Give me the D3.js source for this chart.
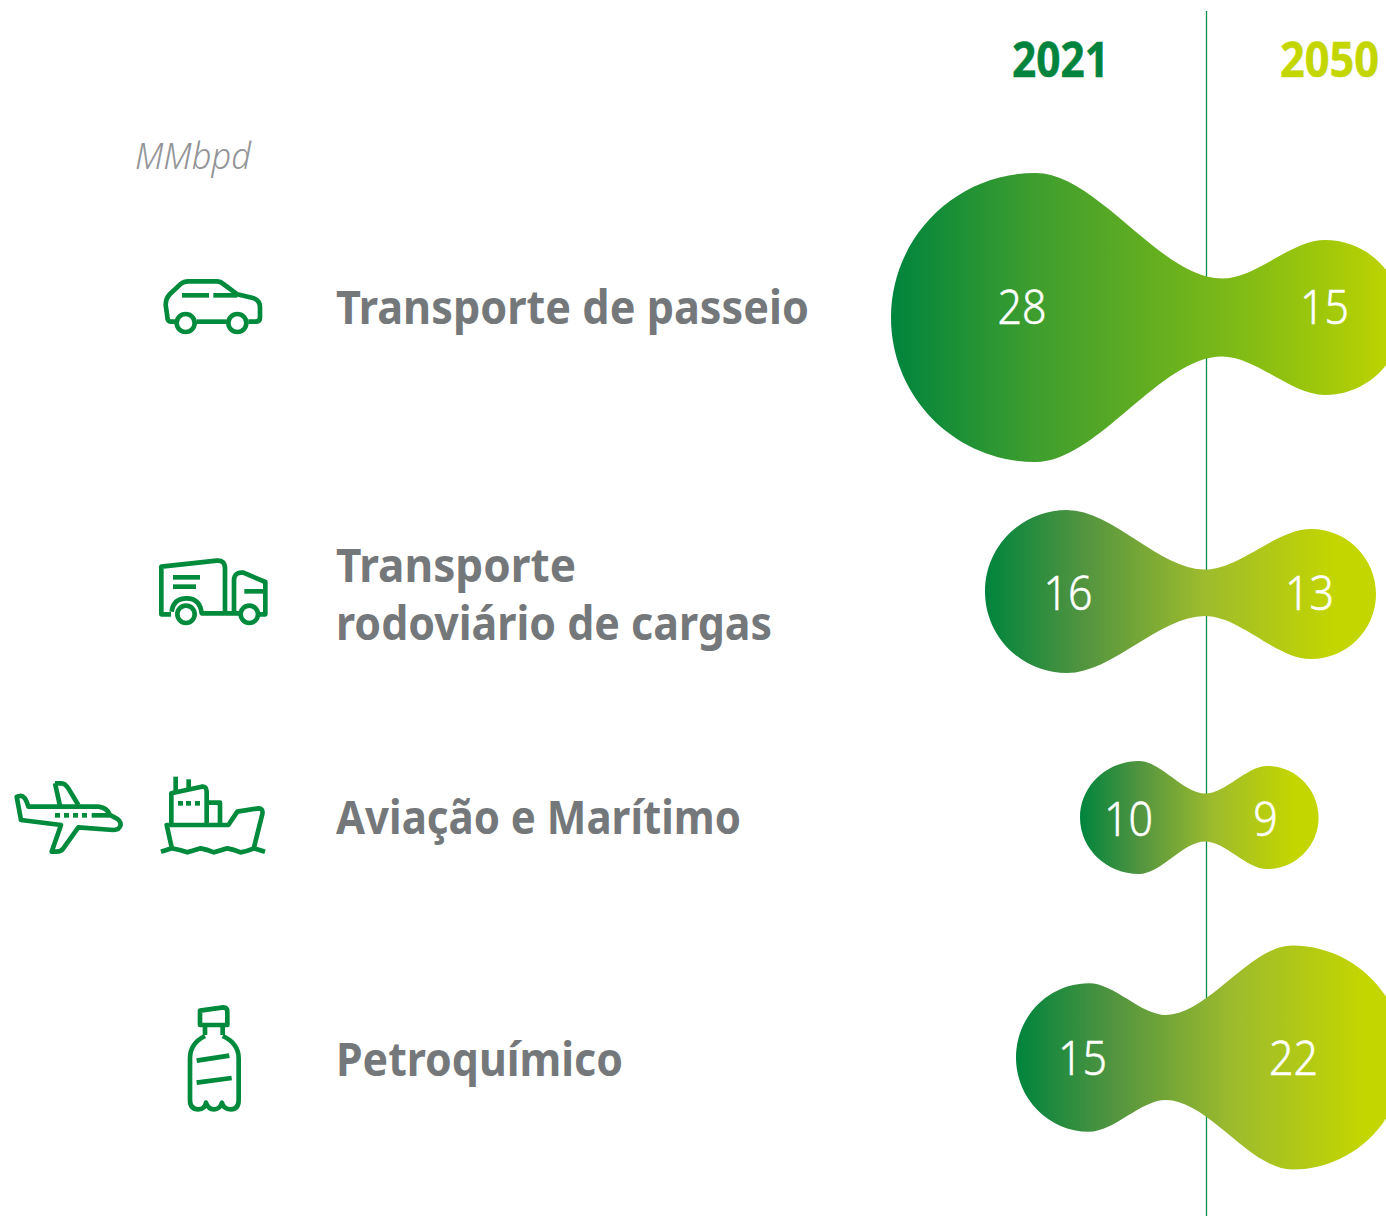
<!DOCTYPE html>
<html><head><meta charset="utf-8">
<script src="https://cdn.jsdelivr.net/npm/d3@7"></script>
<style>html,body{margin:0;padding:0;background:#fff;overflow:hidden}</style>
</head><body>
<div id="chart"></div>
<script>
// ---- data ----
const years = ["2021", "2050"];
const unitLabel = "MMbpd";
const categories = [["Transporte de passeio"], ["Transporte", "rodoviário de cargas"], ["Aviação e Marítimo"], ["Petroquímico"]];
const values2021 = [28, 16, 10, 15];
const values2050 = [15, 13, 9, 22];
// drawn lobe and waist sizes, in MMbpd
const size2021 = [28, 15.8, 10.95, 14.4];
const size2050 = [15, 12.6, 10, 21.7];
const sizeWaist = [7.55, 4.5, 4.65, 8.25];

// ---- layout ----
const W = 1386, H = 1216;
const rowY = [317.5, 591.5, 817.5, 1057.5];
const rowY2050 = [317.5, 594, 817.5, 1057.5];
const lobeX2021 = [1035.5, 1067, 1139, 1089];
const lobeX2050 = [1325, 1311, 1267, 1292];
const waistX = [1222, 1205, 1205, 1166];
const edgeX2021 = [891, 985, 1080, 1016];
const gradEnd = [1395, 1376, 1318, 1404];
const labelX2021 = [1022, 1068, 1128.5, 1082.5];
const labelX2050 = [1324.5, 1309.5, 1265.5, 1293.5];
const labelY = [324, 610, 835.5, 1074.5];
const catBaselines = [[324], [582, 640], [834], [1076]];
const catWidths = [[473], [240, 436], [405], [287]];
const GREEN = "#00843d", LIME = "#c4d600", GREY = "#75787b", ICON = "#008a3c";
const FONT = "'Noto Sans', 'Open Sans', sans-serif";

const r = d3.scaleLinear().domain([0, 28]).range([0, 144.5]);
const svg = d3.select("#chart").append("svg").attr("width", W).attr("height", H).attr("viewBox", `0 0 ${W} ${H}`).style("display", "block");
const defs = svg.append("defs");

const stopsStrong = [[0, "#00843d"], [.29, "#3f9e2e"], [.66, "#7ab818"], [.86, "#a0c80a"], [1, "#c0d400"]];
const stopsSoft = [[0, "#00843d"], [.25, "#529440"], [.56, "#9dbb2d"], [.9, LIME], [1, LIME]];
categories.forEach((c, i) => {
  const g = defs.append("linearGradient").attr("id", "grad" + i).attr("gradientUnits", "userSpaceOnUse")
    .attr("x1", edgeX2021[i]).attr("x2", gradEnd[i]).attr("y1", 0).attr("y2", 0);
  (i === 0 ? stopsStrong : stopsSoft).forEach(s => g.append("stop").attr("offset", s[0]).attr("stop-color", s[1]));
});

// divider behind the shapes
svg.append("line").attr("x1", 1206.5).attr("x2", 1206.5).attr("y1", 11).attr("y2", H).attr("stroke", "#008a4c").attr("stroke-width", 1.3);

function blob(i) {
  const ya = rowY[i], yb = rowY2050[i], y = (ya + yb) / 2, a = lobeX2021[i], b = lobeX2050[i], n = waistX[i];
  const ra = r(size2021[i]), rb = r(size2050[i]), rn = r(sizeWaist[i]);
  const rxa = a - edgeX2021[i], k = 0.33, c = .5523;
  const p = d3.path();
  p.moveTo(a, ya - ra);
  p.bezierCurveTo(a + k * (n - a), ya - ra, n - k * (n - a), y - rn, n, y - rn);
  p.bezierCurveTo(n + k * (b - n), y - rn, b - k * (b - n), yb - rb, b, yb - rb);
  p.bezierCurveTo(b + rb * c, yb - rb, b + rb, yb - rb * c, b + rb, yb);
  p.bezierCurveTo(b + rb, yb + rb * c, b + rb * c, yb + rb, b, yb + rb);
  p.bezierCurveTo(b - k * (b - n), yb + rb, n + k * (b - n), y + rn, n, y + rn);
  p.bezierCurveTo(n - k * (n - a), y + rn, a + k * (n - a), ya + ra, a, ya + ra);
  p.bezierCurveTo(a - rxa * c, ya + ra, a - rxa, ya + ra * c, a - rxa, ya);
  p.bezierCurveTo(a - rxa, ya - ra * c, a - rxa * c, ya - ra, a, ya - ra);
  p.closePath();
  return p.toString();
}
svg.selectAll("path.blob").data(categories).join("path").attr("class", "blob")
  .attr("d", (d, i) => blob(i)).attr("fill", (d, i) => `url(#grad${i})`);

// value labels
const digitW = v => String(v).length * 24.5;
const valText = (vals, xs) => svg.append("g").selectAll("text").data(vals).join("text")
  .attr("x", (d, i) => xs[i]).attr("y", (d, i) => labelY[i]).attr("text-anchor", "middle")
  .attr("font-family", FONT).attr("font-weight", 300).attr("font-size", 47).attr("fill", "#fff")
  .attr("stroke", "#fff").attr("stroke-width", .5)
  .attr("textLength", d => digitW(d)).attr("lengthAdjust", "spacingAndGlyphs").text(d => d);
valText(values2021, labelX2021);
valText(values2050, labelX2050);

// headers
svg.append("text").attr("x", 1012).attr("y", 77).attr("font-family", FONT).attr("font-weight", 700)
  .attr("font-size", 48).attr("fill", GREEN).attr("stroke", GREEN).attr("stroke-width", .5).attr("textLength", 97).attr("lengthAdjust", "spacingAndGlyphs").text(years[0]);
svg.append("text").attr("x", 1280).attr("y", 77).attr("font-family", FONT).attr("font-weight", 700)
  .attr("font-size", 48).attr("fill", LIME).attr("stroke", LIME).attr("stroke-width", .5).attr("textLength", 99).attr("lengthAdjust", "spacingAndGlyphs").text(years[1]);
svg.append("text").attr("x", 135).attr("y", 169).attr("font-family", FONT).attr("font-style", "italic").attr("font-weight", 300)
  .attr("font-size", 36).attr("fill", "#929497").attr("textLength", 116).attr("lengthAdjust", "spacingAndGlyphs").text(unitLabel);

// category labels
categories.forEach((lines, i) => lines.forEach((t, j) => {
  svg.append("text").attr("x", 336).attr("y", catBaselines[i][j]).attr("font-family", FONT).attr("font-weight", 700)
    .attr("font-size", 46).attr("fill", GREY).attr("textLength", catWidths[i][j]).attr("lengthAdjust", "spacingAndGlyphs").text(t);
}));

// icons (outline drawings)
function icon(offsetY, paths, circles) {
  const g = svg.append("g").attr("transform", `translate(0,${offsetY}) scale(${1 / 3})`)
    .attr("fill", "none").attr("stroke", ICON).attr("stroke-width", 14).attr("stroke-linejoin", "round");
  paths.forEach(d => g.append("path").attr("d", d));
  (circles || []).forEach(c => g.append("circle").attr("cx", c[0]).attr("cy", c[1]).attr("r", c[2]));
}
icon(250, [
  "M527,215L512,215Q502,213 502,200L497,165Q497,145 510,132L542,102Q552,94 565,94L650,94Q662,94 670,102L712,133L762,145Q780,152 780,172L780,203Q780,215 765,215L745,215",
  "M590,215L680,215", "M546,136L627,136", "M640,136L712,136"
], [[557, 219, 27], [712, 219, 27]]);
icon(250, [
  "M513,1093L484,1093L484,950L650,932Q675,930 675,955L675,1090",
  "M515,1085Q520,1045 560,1045Q600,1045 605,1090L722,1090",
  "M702,1090L702,990Q703,965 730,968L796,996L796,1093L778,1093",
  "M733,1024L796,1024", "M519,982L600,982", "M519,1010L588,1010"
], [[558, 1093, 26], [748, 1093, 26]]);
icon(750, [
  "M50,140L60,138Q75,135 85,170L295,170Q320,172 330,195L345,203Q362,210 362,225Q358,240 340,240L235,232L190,295Q183,305 170,305L155,305L183,225L63,210Z",
  "M165,100L185,100Q195,100 205,115L235,165", "M165,100L180,168",
  "M165,196L180,196", "M192,196L207,196", "M219,196L234,196", "M246,196L261,196", "M275,196L330,196"
]);
icon(750, [
  "M515,292L500,225L685,225L712,185L775,175Q790,175 787,192L762,292",
  "M514,222L514,130L605,110Q620,108 620,125L620,222", "M620,158L660,158L660,222",
  "M527,80L527,125", "M566,88L566,115", "M534,160L549,160", "M558,160L573,160", "M585,160L600,160",
  "M483,305Q500,300 515,295Q540,300 562,307Q580,302 602,295Q620,298 642,307Q660,302 682,295Q700,298 722,307Q740,304 762,295L795,305"
]);
icon(750, [
  "M600,825L600,782L670,772Q682,772 682,785L682,825Z", "M615,825L615,855", "M668,825L668,855",
  "M615,858Q570,880 570,925L570,1050Q570,1078 595,1078Q615,1078 618,1058Q625,1078 642,1078Q660,1078 666,1058Q670,1078 692,1078Q716,1078 716,1050L716,925Q716,880 668,858",
  "M590,932L688,917", "M590,998L695,984"
]);
</script>
</body></html>
